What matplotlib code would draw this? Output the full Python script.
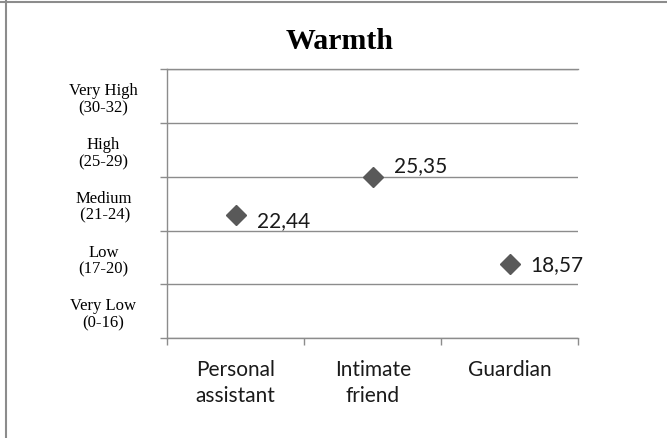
import numpy as np
import matplotlib
matplotlib.use("Agg")
import matplotlib.pyplot as plt
from matplotlib.lines import Line2D

categories = ["Personal\nassistant", "Intimate\nfriend", "Guardian"]
values = [22.44, 25.35, 18.57]
band_labels = ["Very Low\n(0-16)", "Low\n(17-20)", "Medium\n (21-24)",
               "High\n(25-29)", "Very High\n(30-32)"]
title = "Warmth"

# label offsets in points (right of marker, small manual nudges)
label_offsets = [(15, -4), (15, 9), (15, 0)]

GRAY = "#8c8c8c"
MARK = "#595959"
SANS = "Lato"
SERIF = "Liberation Serif"

W, H = 667, 439
fig = plt.figure(figsize=(W / 100, H / 100), dpi=100)
ax = fig.add_axes([167.3 / W, (H - 339.3) / H, (578.3 - 167.3) / W, (339.3 - 70) / H])

x = np.arange(len(categories))
ax.plot(x, values, linestyle="none", marker="D", markersize=10.5,
        color=MARK, zorder=3, clip_on=False)
for xi, v, off in zip(x, values, label_offsets):
    ax.annotate(f"{v:.2f}".replace(".", ","), (xi, v), textcoords="offset points",
                xytext=off, ha="left", va="center", fontsize=15, family=SANS,
                color="#1a1a1a")

# y axis: 5 bands, gridlines at band edges, labels in the middle
ymin, ymax = 12.81, 33.81
edges = np.linspace(ymin, ymax, len(band_labels) + 1)
ax.set_ylim(ymin, ymax)
ax.set_yticks(edges)
ax.set_yticklabels([])
ax.set_yticks((edges[:-1] + edges[1:]) / 2, minor=True)
ax.set_yticklabels(band_labels, minor=True, family=SERIF, fontsize=12)
for lab in ax.get_yticklabels(minor=True):
    lab.set_ha("center")
    lab.set_linespacing(1.1)
ax.tick_params(axis="y", which="major", length=5, color=GRAY, width=1)
ax.tick_params(axis="y", which="minor", length=0, pad=46)
ax.yaxis.grid(True, which="major", color=GRAY, lw=1)

# x axis: ticks between categories, labels at the centres
ax.set_xlim(-0.5, len(categories) - 0.5)
ax.set_xticks(np.arange(len(categories) + 1) - 0.5)
ax.set_xticklabels([])
ax.set_xticks(x, minor=True)
ax.set_xticklabels(categories, minor=True, family=SANS, fontsize=15, color="#1a1a1a")
for lab in ax.get_xticklabels(minor=True):
    lab.set_linespacing(1.35)
ax.tick_params(axis="x", which="major", length=5, color=GRAY, width=1)
ax.tick_params(axis="x", which="minor", length=0, pad=15)

ax.spines["right"].set_visible(False)
for side in ["left", "bottom", "top"]:
    ax.spines[side].set_color(GRAY)
    ax.spines[side].set_linewidth(1)
ax.set_axisbelow(True)

fig.text(340 / W, 1 - 49 / H, title, ha="center", va="baseline",
         fontsize=21.5, weight="bold", family=SERIF)

# frame of the original chart box (top and left edges only)
fig.add_artist(Line2D([0, 1], [1 - 3 / H] * 2, color=GRAY, lw=1.5))
fig.add_artist(Line2D([6 / W] * 2, [0, 1 - 2 / H], color=GRAY, lw=1.5))

fig.savefig("out.png", dpi=100, facecolor="white")
